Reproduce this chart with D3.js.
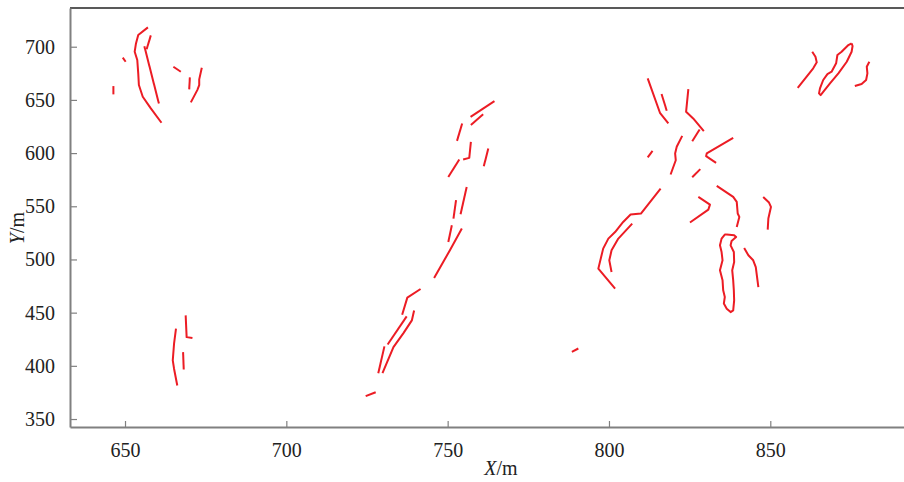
<!DOCTYPE html>
<html>
<head>
<meta charset="utf-8">
<script src="https://cdn.jsdelivr.net/npm/d3@7"></script>
<style>
html,body{margin:0;padding:0;background:#fff;}
svg{display:block;}
</style>
</head>
<body>
<svg id="chart" width="904" height="482"></svg>
<script>
// Tick values
const xTicks = [650, 700, 750, 800, 850];
const yTicks = [350, 400, 450, 500, 550, 600, 650, 700];

// Fracture traces, each a polyline of [X, Y] in metres
const clusterNW = [
  [[646.4,663.0],[646.4,655.2]],
  [[649.3,689.7],[650.2,685.9]],
  [[657.1,718.2],[654.1,711.0],[653.4,703.1],[653.0,695.3],[653.8,687.5],[654.1,674.9],[654.3,664.0],[655.5,653.0],[658.0,642.0],[661.3,628.5]],
  [[658.0,710.7],[656.7,697.6]],
  [[656.0,700.4],[660.5,646.7]],
  [[665.0,681.2],[667.3,676.5]],
  [[670.1,671.2],[669.9,659.9]],
  [[673.8,680.2],[673.0,669.3],[673.0,663.9],[672.4,659.2],[670.4,647.7]]
];
const clusterSW = [
  [[665.8,434.9],[665.2,420.8],[664.8,405.1],[665.2,397.3],[666.2,381.5]],
  [[668.8,447.4],[669.1,427.0],[670.9,426.1]],
  [[668.0,412.9],[668.2,396.6]]
];
const clusterMid = [
  [[764.5,648.9],[757.1,634.1]],
  [[761.0,636.4],[757.2,626.3]],
  [[754.5,627.9],[752.9,611.5]],
  [[757.2,610.6],[756.7,595.5],[754.8,594.0]],
  [[753.6,594.0],[750.2,577.6]],
  [[762.6,604.4],[761.2,587.7]],
  [[755.9,568.2],[754.0,542.5]],
  [[752.6,555.7],[751.8,538.4]],
  [[751.3,532.2],[750.2,516.4]],
  [[754.4,529.1],[750.7,508.7],[745.8,482.5]],
  [[741.6,472.2],[737.5,464.1],[735.9,448.1]],
  [[737.3,446.5],[731.4,420.1]],
  [[739.6,452.1],[738.9,442.7],[736.3,430.8],[733.2,417.6],[729.8,393.1]],
  [[730.4,418.3],[728.5,393.1]],
  [[727.7,375.2],[724.6,371.5]],
  [[788.5,413.2],[790.5,416.3]]
];
const clusterE = [
  [[812.0,670.3],[815.8,637.9],[818.4,627.9]],
  [[816.3,655.5],[817.9,639.8]],
  [[824.6,660.2],[823.9,638.8],[826.1,632.6],[829.4,620.6]],
  [[828.1,622.2],[825.8,611.2]],
  [[822.7,616.2],[821.0,605.9],[820.5,599.7],[820.7,593.3],[819.1,579.9]],
  [[813.5,602.1],[812.0,595.9]],
  [[838.5,614.3],[830.3,599.7],[830.1,597.1],[833.2,590.8]],
  [[828.3,584.9],[825.8,577.3]],
  [[816.0,566.7],[809.9,543.2],[806.7,542.2],[804.4,535.3],[801.9,525.8],[799.8,519.6],[798.2,510.2],[796.7,491.4],[801.9,472.6]],
  [[807.2,533.7],[802.9,519.6],[800.8,508.6],[800.1,499.2],[800.8,488.2]],
  [[827.7,558.8],[831.3,551.6],[830.8,546.9],[825.1,534.7]],
  [[833.4,569.2],[838.5,558.8],[839.6,554.1],[839.9,543.2],[840.4,540.0],[839.6,530.6]],
  [[847.8,558.8],[849.6,553.5],[850.2,549.4],[849.4,538.5],[849.2,528.1]],
  [[836.5,523.4],[838.8,522.7],[839.4,521.1],[838.0,517.4],[837.7,513.3],[838.7,507.0],[838.8,497.6],[838.2,489.8],[838.5,480.4],[838.7,471.0],[838.8,461.5],[838.5,452.1],[837.7,450.5],[836.5,453.7],[835.6,458.5],[835.9,464.7],[835.4,471.0],[835.2,480.4],[834.4,489.8],[835.2,499.2],[834.9,507.0],[834.4,513.3],[834.9,519.6],[835.9,523.4],[836.5,523.4]],
  [[841.9,510.8],[843.2,503.9],[844.7,499.2],[845.5,492.9],[846.3,474.1]]
];
const clusterNE = [
  [[863.0,695.3],[864.0,690.6],[864.4,685.3],[863.3,679.7],[858.5,661.4]],
  [[875.2,703.2],[874.2,701.6],[872.1,695.3],[870.8,692.2],[870.4,684.4],[869.0,676.5],[867.7,674.3],[866.4,668.7],[865.4,660.8],[865.1,656.1],[865.6,654.5],[866.4,657.6],[868.5,665.5],[871.1,675.0],[873.7,685.9],[875.2,695.3],[875.5,700.7],[875.2,703.2]],
  [[880.7,685.9],[879.9,681.2],[880.1,674.9],[879.7,668.7],[878.3,664.9],[876.2,663.0]]
];

const svg = d3.select("#chart");
const L = 70, T = 8, R = 904, B = 427;
const x = d3.scaleLinear().domain([632.95, 891.44]).range([L, R]);
const y = d3.scaleLinear().domain([342.5, 736.4]).range([B, T]);

const font = "'Liberation Serif','Times New Roman',serif";

// top border
svg.append("line").attr("x1", L).attr("x2", R).attr("y1", T).attr("y2", T)
  .attr("stroke", "#222").attr("stroke-width", 1.5);

// x axis
const xAxis = svg.append("g").attr("transform", `translate(0,${B})`)
  .call(d3.axisBottom(x).tickValues(xTicks).tickSizeInner(-6).tickSizeOuter(0).tickPadding(16));
xAxis.select(".domain").attr("stroke", "#808080").attr("stroke-width", 2);
xAxis.selectAll(".tick line").attr("stroke", "#808080").attr("stroke-width", 1.2);
xAxis.selectAll("text").attr("font-family", font).attr("font-size", 20).attr("fill", "#222");

// y axis
const yAxis = svg.append("g").attr("transform", `translate(${L},0)`)
  .call(d3.axisLeft(y).tickValues(yTicks).tickSizeInner(-7).tickSizeOuter(0).tickPadding(15));
yAxis.select(".domain").attr("stroke", "#808080").attr("stroke-width", 2);
yAxis.selectAll(".tick line").attr("stroke", "#808080").attr("stroke-width", 1.2);
yAxis.selectAll("text").attr("font-family", font).attr("font-size", 20).attr("fill", "#222");

// axis titles
const xt = svg.append("text").attr("x", 501).attr("y", 475).attr("text-anchor", "middle")
  .attr("font-family", font).attr("font-size", 20).attr("fill", "#222");
xt.append("tspan").attr("font-style", "italic").text("X");
xt.append("tspan").text("/m");

const yt = svg.append("text").attr("transform", "translate(24,228) rotate(-90)").attr("text-anchor", "middle")
  .attr("font-family", font).attr("font-size", 20).attr("fill", "#222");
yt.append("tspan").attr("font-style", "italic").text("Y");
yt.append("tspan").text("/m");

// traces
const line = d3.line().x(d => x(d[0])).y(d => y(d[1])).curve(d3.curveLinear);
const all = [].concat(clusterNW, clusterSW, clusterMid, clusterE, clusterNE);
svg.append("g").selectAll("path").data(all).join("path")
  .attr("d", line)
  .attr("fill", "none")
  .attr("stroke", "#ec1c24")
  .attr("stroke-width", 2)
  .attr("stroke-linejoin", "round")
  .attr("stroke-linecap", "butt");
</script>
</body>
</html>
